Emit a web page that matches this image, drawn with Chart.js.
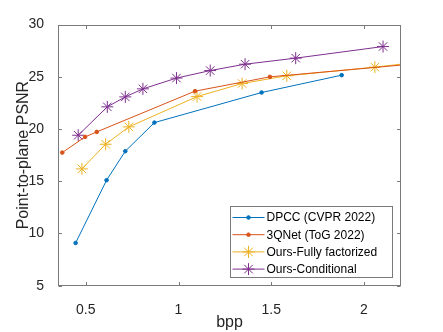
<!DOCTYPE html>
<html>
<head>
<meta charset="utf-8">
<script src="https://cdn.jsdelivr.net/npm/chart.js@4/dist/chart.umd.min.js"></script>
<style>
  html, body { margin: 0; padding: 0; background: #fff; }
  #wrap { width: 443px; height: 332px; }
</style>
</head>
<body>
<div id="wrap"><canvas id="psnrChart" width="443" height="332"></canvas></div>
<script>
// values (bpp, point-to-plane PSNR)
const dpccX = [0.445, 0.612, 0.713, 0.870, 1.448, 1.880];
const dpccY = [9.09, 15.1, 17.87, 20.61, 23.49, 25.15];

const qnetX = [0.373, 0.496, 0.559, 1.089, 1.493, 2.6];
const qnetY = [17.74, 19.24, 19.72, 23.62, 24.99, 26.75];

const fullyX = [0.479, 0.607, 0.732, 1.100, 1.343, 1.584, 2.059, 2.5];
const fullyY = [16.18, 18.54, 20.2, 23.1, 24.35, 25.09, 25.92, 26.8];

const condX = [0.459, 0.616, 0.713, 0.808, 0.989, 1.171, 1.359, 1.632, 2.103];
const condY = [19.4, 22.12, 23.07, 23.84, 24.87, 25.59, 26.2, 26.78, 27.89];

const xTicks = [0.5, 1, 1.5, 2];
const yTicks = [5, 10, 15, 20, 25, 30];

const FONT = '"Liberation Sans", Arial, Helvetica, sans-serif';
const TEXT = '#262626';
const BOX = '#7a7a7a';

const pts = (xs, ys) => xs.map((x, i) => ({ x: x, y: ys[i] }));

// MATLAB style box with inward ticks
const boxAxes = {
  id: 'boxAxes',
  afterDatasetsDraw(chart) {
    const ctx = chart.ctx;
    const a = chart.chartArea;
    const xs = chart.scales.x, ys = chart.scales.y;
    const L = Math.round(a.left) + 0.5, R = Math.round(a.right) - 0.5;
    const T = Math.round(a.top) + 0.5, B = Math.round(a.bottom) - 0.5;
    ctx.save();
    ctx.strokeStyle = BOX;
    ctx.lineWidth = 1;
    ctx.strokeRect(L, T, R - L, B - T);
    ctx.beginPath();
    xTicks.forEach(v => {
      const px = Math.round(xs.getPixelForValue(v)) + 0.5;
      ctx.moveTo(px, B); ctx.lineTo(px, B - 3.5);
      ctx.moveTo(px, T); ctx.lineTo(px, T + 3.5);
    });
    yTicks.forEach(v => {
      const py = Math.round(ys.getPixelForValue(v)) + 0.5;
      ctx.moveTo(L, py); ctx.lineTo(L + 3.5, py);
      ctx.moveTo(R, py); ctx.lineTo(R - 3.5, py);
    });
    ctx.stroke();
    ctx.restore();
  }
};

// legend box in the lower right corner
const boxLegend = {
  id: 'boxLegend',
  afterDraw(chart) {
    const ctx = chart.ctx;
    const x0 = 230.5, y0 = 206.5, w = 162, h = 71;
    ctx.save();
    ctx.fillStyle = '#fff';
    ctx.fillRect(x0, y0, w, h);
    ctx.strokeStyle = BOX;
    ctx.lineWidth = 1;
    ctx.strokeRect(x0, y0, w, h);
    chart.data.datasets.forEach((ds, i) => {
      const cy = 217.5 + i * 17.2;
      ctx.strokeStyle = ds.borderColor;
      ctx.lineWidth = 1;
      ctx.beginPath();
      ctx.moveTo(x0 + 2, cy);
      ctx.lineTo(x0 + 34, cy);
      ctx.stroke();
      ctx.fillStyle = ds.pointBackgroundColor;
      ctx.strokeStyle = ds.borderColor;
      Chart.helpers.drawPoint(ctx, {
        pointStyle: ds.pointStyle, radius: ds.pointRadius, borderWidth: 1, rotation: 0
      }, x0 + 18, cy);
      ctx.fillStyle = '#000';
      ctx.font = '12px ' + FONT;
      ctx.textBaseline = 'middle';
      ctx.textAlign = 'left';
      ctx.fillText(ds.label, x0 + 36, cy + 0.5);
    });
    ctx.restore();
  }
};

function series(label, xs, ys, color, style, radius) {
  return {
    label: label,
    data: pts(xs, ys),
    borderColor: color,
    backgroundColor: color,
    pointBackgroundColor: color,
    pointBorderColor: color,
    pointStyle: style,
    pointRadius: radius,
    pointBorderWidth: 1,
    borderWidth: 1,
    tension: 0,
    fill: false
  };
}

new Chart(document.getElementById('psnrChart'), {
  type: 'line',
  data: {
    datasets: [
      series('DPCC (CVPR 2022)', dpccX, dpccY, '#0072BD', 'circle', 1.8),
      series('3QNet (ToG 2022)', qnetX, qnetY, '#D95319', 'circle', 1.8),
      series('Ours-Fully factorized', fullyX, fullyY, '#EDB120', 'star', 6),
      series('Ours-Conditional', condX, condY, '#7E2F8E', 'star', 6)
    ]
  },
  options: {
    responsive: false,
    animation: false,
    devicePixelRatio: 1,
    layout: { padding: { top: 24.5, right: 42, left: 0, bottom: 0 } },
    plugins: {
      legend: { display: false },
      tooltip: { enabled: false }
    },
    scales: {
      x: {
        type: 'linear',
        min: 0.35,
        max: 2.2,
        grid: { display: false },
        border: { display: false },
        afterBuildTicks: s => { s.ticks = xTicks.map(v => ({ value: v })); },
        afterFit: s => { s.height = 46.3; },
        ticks: {
          color: TEXT,
          font: { family: FONT, size: 14 },
          padding: 8,
          maxRotation: 0,
          callback: v => String(v)
        },
        title: {
          display: true,
          text: 'bpp',
          color: TEXT,
          font: { family: FONT, size: 16 },
          padding: { top: 0, bottom: 0 }
        }
      },
      y: {
        type: 'linear',
        min: 5,
        max: 30,
        grid: { display: false },
        border: { display: false },
        afterBuildTicks: s => { s.ticks = yTicks.map(v => ({ value: v })); },
        afterFit: s => { s.width = 58; },
        ticks: {
          color: TEXT,
          font: { family: FONT, size: 14 },
          padding: 6,
          callback: v => String(v)
        },
        title: {
          display: true,
          text: 'Point-to-plane PSNR',
          color: TEXT,
          font: { family: FONT, size: 16 },
          padding: { top: 14, bottom: 0 }
        }
      }
    }
  },
  plugins: [boxAxes, boxLegend]
});
</script>
</body>
</html>
